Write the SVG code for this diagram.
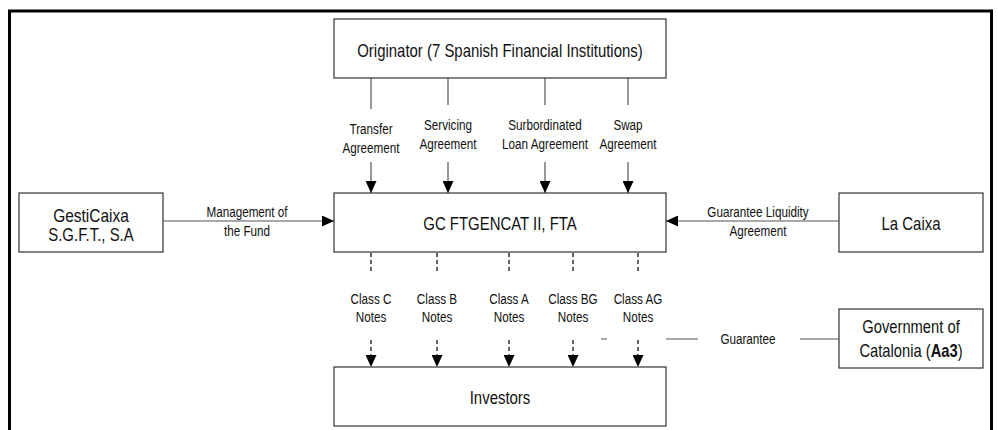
<svg xmlns="http://www.w3.org/2000/svg" width="998" height="430" viewBox="0 0 998 430">
<style>
.box{fill:#fff;stroke:#333;stroke-width:1.2}
.t{font-family:"Liberation Sans",Arial,sans-serif;fill:#111;text-anchor:middle}
.big{font-size:18px}
.sm{font-size:15px}
.ln{stroke:#555;stroke-width:1.2;fill:none}
.dash{stroke:#222;stroke-width:1.4;stroke-dasharray:4 3;fill:none}
</style>
<defs>
<marker id="ah" viewBox="0 0 12 11" refX="12" refY="5.5" markerWidth="12" markerHeight="11" markerUnits="userSpaceOnUse" orient="auto">
<path d="M0,0 L12,5.5 L0,11 Z" fill="#000"/>
</marker>
</defs>
<rect width="998" height="430" fill="#fff"/>
<path d="M9.5,432 V11 H991.5 V432" fill="none" stroke="#000" stroke-width="3"/>
<g id="connectors">
<path class="ln" d="M371,78 V109 M448,78 V105 M545,78 V105 M628,78 V105"/>
<path class="ln" d="M371,162 V193" marker-end="url(#ah)"/>
<path class="ln" d="M448,162 V193" marker-end="url(#ah)"/>
<path class="ln" d="M545,162 V193" marker-end="url(#ah)"/>
<path class="ln" d="M628,162 V193" marker-end="url(#ah)"/>
<path class="ln" d="M163,221 H334" marker-end="url(#ah)"/>
<path class="ln" d="M839,221 H666" marker-end="url(#ah)"/>
<path class="dash" d="M371,253 V272 M437,253 V272 M509,253 V272 M573,253 V272 M638,253 V272"/>
<path class="dash" d="M371,340 V367" marker-end="url(#ah)"/>
<path class="dash" d="M437,340 V367" marker-end="url(#ah)"/>
<path class="dash" d="M509,340 V367" marker-end="url(#ah)"/>
<path class="dash" d="M573,340 V367" marker-end="url(#ah)"/>
<path class="dash" d="M638,340 V367" marker-end="url(#ah)"/>
<path class="ln" d="M601,339 H607 M666,339 H698 M800,339 H839"/>
<g class="t sm">
<text transform="translate(371 134) scale(.78 1)">Transfer</text><text transform="translate(371 153) scale(.78 1)">Agreement</text>
<text transform="translate(448 130) scale(.78 1)">Servicing</text><text transform="translate(448 149) scale(.78 1)">Agreement</text>
<text transform="translate(545 130) scale(.78 1)">Surbordinated</text><text transform="translate(545 149) scale(.78 1)">Loan Agreement</text>
<text transform="translate(628 130) scale(.78 1)">Swap</text><text transform="translate(628 149) scale(.78 1)">Agreement</text>
<text transform="translate(247 216.5) scale(.78 1)">Management of</text><text transform="translate(247 235.5) scale(.78 1)">the Fund</text>
<text transform="translate(758 216.5) scale(.78 1)">Guarantee Liquidity</text><text transform="translate(758 235.5) scale(.78 1)">Agreement</text>
<text transform="translate(371 303.5) scale(.78 1)">Class C</text><text transform="translate(371 322) scale(.78 1)">Notes</text>
<text transform="translate(437 303.5) scale(.78 1)">Class B</text><text transform="translate(437 322) scale(.78 1)">Notes</text>
<text transform="translate(509 303.5) scale(.78 1)">Class A</text><text transform="translate(509 322) scale(.78 1)">Notes</text>
<text transform="translate(573 303.5) scale(.78 1)">Class BG</text><text transform="translate(573 322) scale(.78 1)">Notes</text>
<text transform="translate(638 303.5) scale(.78 1)">Class AG</text><text transform="translate(638 322) scale(.78 1)">Notes</text>
<text transform="translate(748 343.5) scale(.78 1)">Guarantee</text>
</g>
</g>
<g id="originator"><rect class="box" x="334" y="19" width="332" height="59"/><text class="t big" transform="translate(500 56.5) scale(.83 1)">Originator (7 Spanish Financial Institutions)</text></g>
<g id="fund"><rect class="box" x="334" y="193" width="332" height="59"/><text class="t big" transform="translate(500 230) scale(.83 1)">GC FTGENCAT II, FTA</text></g>
<g id="gesticaixa"><rect class="box" x="19" y="193" width="144" height="59"/><text class="t big" transform="translate(91 221.5) scale(.86 1)">GestiCaixa</text><text class="t big" transform="translate(91 240.5) scale(.83 1)">S.G.F.T., S.A</text></g>
<g id="lacaixa"><rect class="box" x="839" y="193" width="144" height="59"/><text class="t big" transform="translate(911 230) scale(.83 1)">La Caixa</text></g>
<g id="government"><rect class="box" x="839" y="309" width="144" height="59"/><text class="t big" transform="translate(911 333) scale(.82 1)">Government of</text><text class="t big" transform="translate(911 357) scale(.82 1)">Catalonia (<tspan font-weight="bold">Aa3</tspan>)</text></g>
<g id="investors"><rect class="box" x="334" y="367" width="332" height="59"/><text class="t big" transform="translate(500 404) scale(.83 1)">Investors</text></g>
</svg>
